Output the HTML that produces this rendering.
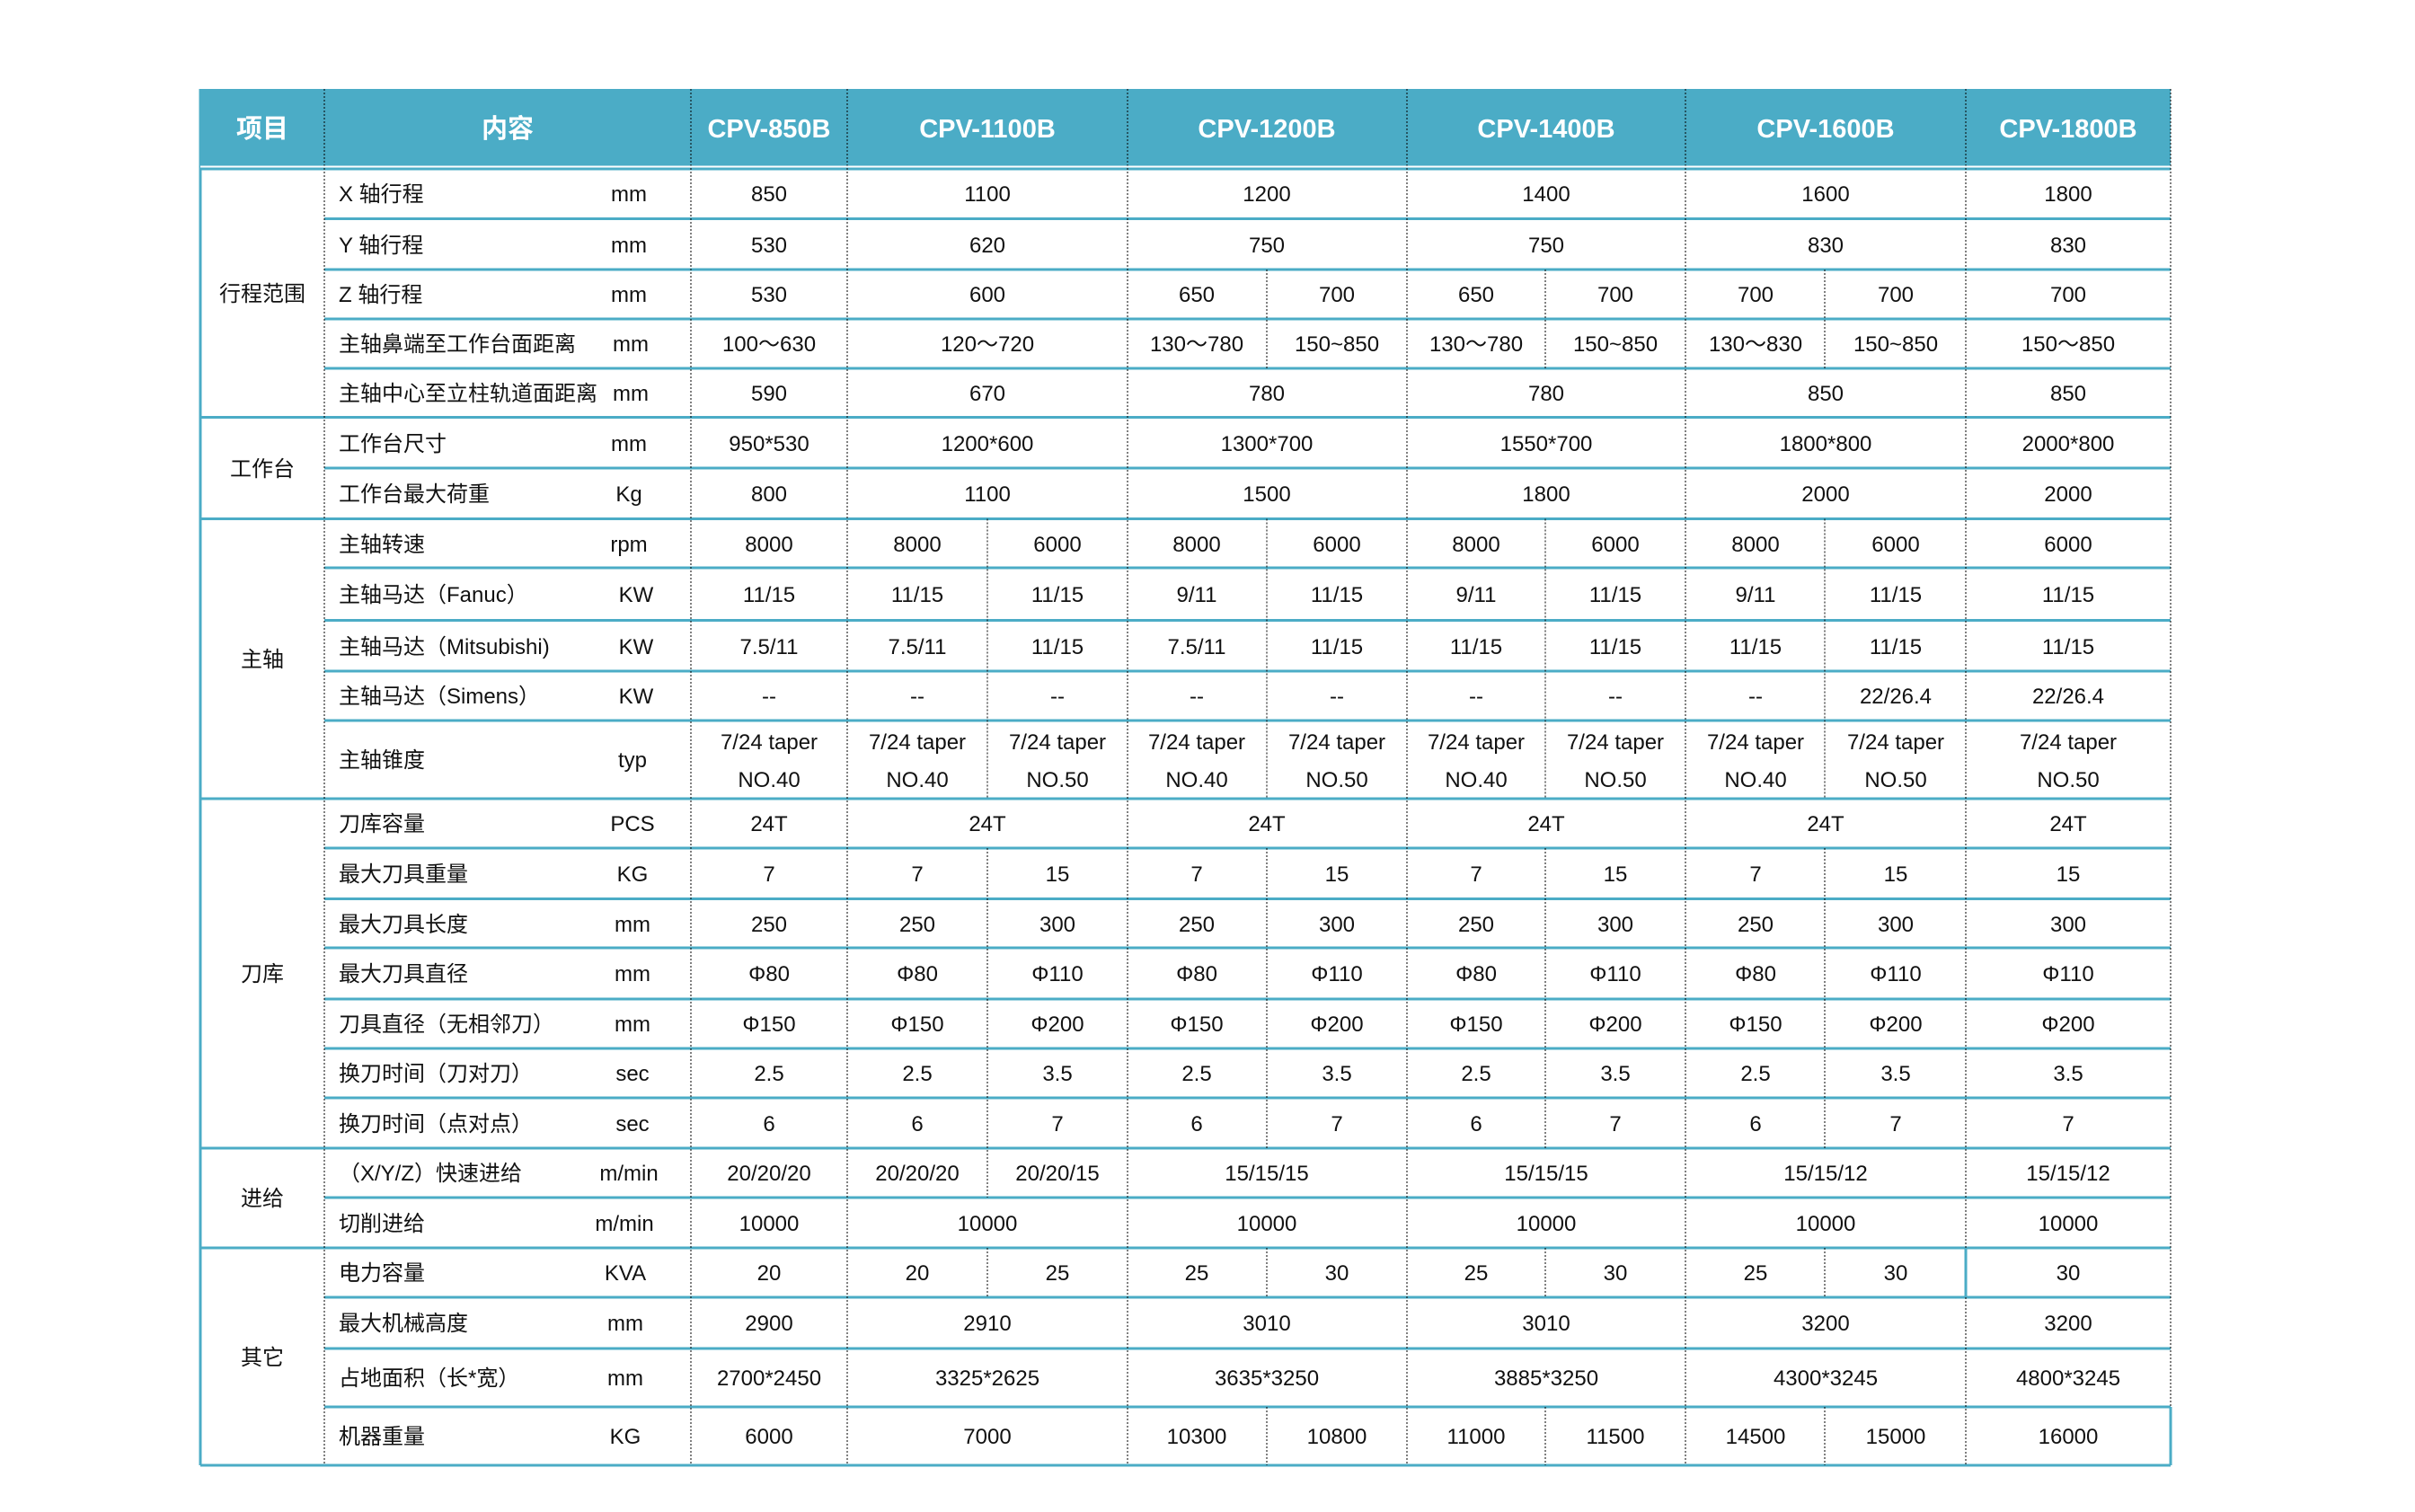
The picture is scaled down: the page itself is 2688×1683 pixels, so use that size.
<!DOCTYPE html>
<html><head><meta charset="utf-8"><style>
html,body{margin:0;padding:0;background:#fff;}
svg{display:block;}
text{font-family:"Liberation Sans","Noto Sans CJK SC",sans-serif;font-size:24px;fill:#111;}
.c{text-anchor:middle;}
.h{font-size:29px;font-weight:bold;fill:#fff;text-anchor:middle;}
.l{text-anchor:start;}
</style></head><body>
<svg width="2688" height="1683" viewBox="0 0 2688 1683" xmlns="http://www.w3.org/2000/svg">
<rect x="223" y="99" width="2193" height="86" fill="#4BACC6"/>
<g stroke="#4BACC6" stroke-width="3" fill="none">
<line x1="223" y1="188" x2="2416" y2="188"/>
<line x1="223" y1="464.5" x2="2416" y2="464.5"/>
<line x1="223" y1="577.5" x2="2416" y2="577.5"/>
<line x1="223" y1="889" x2="2416" y2="889"/>
<line x1="223" y1="1278" x2="2416" y2="1278"/>
<line x1="223" y1="1389" x2="2416" y2="1389"/>
<line x1="223" y1="1631" x2="2416" y2="1631"/>
<line x1="223" y1="99" x2="223" y2="1631"/>
<line x1="2416" y1="1566" x2="2416" y2="1631"/>
<line x1="2188" y1="1389" x2="2188" y2="1444"/>
<g>
<line x1="361" y1="243.5" x2="2416" y2="243.5"/>
<line x1="361" y1="300" x2="2416" y2="300"/>
<line x1="361" y1="355" x2="2416" y2="355"/>
<line x1="361" y1="410" x2="2416" y2="410"/>
<line x1="361" y1="521" x2="2416" y2="521"/>
<line x1="361" y1="632" x2="2416" y2="632"/>
<line x1="361" y1="690.5" x2="2416" y2="690.5"/>
<line x1="361" y1="747" x2="2416" y2="747"/>
<line x1="361" y1="802" x2="2416" y2="802"/>
<line x1="361" y1="944" x2="2416" y2="944"/>
<line x1="361" y1="1000.5" x2="2416" y2="1000.5"/>
<line x1="361" y1="1055" x2="2416" y2="1055"/>
<line x1="361" y1="1112" x2="2416" y2="1112"/>
<line x1="361" y1="1167" x2="2416" y2="1167"/>
<line x1="361" y1="1222" x2="2416" y2="1222"/>
<line x1="361" y1="1333" x2="2416" y2="1333"/>
<line x1="361" y1="1444" x2="2416" y2="1444"/>
<line x1="361" y1="1501" x2="2416" y2="1501"/>
<line x1="361" y1="1566" x2="2416" y2="1566"/>
</g>
</g>
<g stroke="#000" stroke-width="1" stroke-dasharray="2,2">
<line x1="361" y1="99" x2="361" y2="1631"/>
<line x1="769" y1="99" x2="769" y2="1631"/>
<line x1="943" y1="99" x2="943" y2="1631"/>
<line x1="1255" y1="99" x2="1255" y2="1631"/>
<line x1="1566" y1="99" x2="1566" y2="1631"/>
<line x1="1876" y1="99" x2="1876" y2="1631"/>
<line x1="2188" y1="99" x2="2188" y2="1389"/>
<line x1="2188" y1="1444" x2="2188" y2="1631"/>
<line x1="2416" y1="99" x2="2416" y2="1566"/>
<!-- splits -->
<line x1="1410" y1="300" x2="1410" y2="410"/>
<line x1="1720" y1="300" x2="1720" y2="410"/>
<line x1="2031" y1="300" x2="2031" y2="410"/>
<line x1="1099" y1="577.5" x2="1099" y2="889"/>
<line x1="1410" y1="577.5" x2="1410" y2="889"/>
<line x1="1720" y1="577.5" x2="1720" y2="889"/>
<line x1="2031" y1="577.5" x2="2031" y2="889"/>
<line x1="1099" y1="944" x2="1099" y2="1333"/>
<line x1="1410" y1="944" x2="1410" y2="1278"/>
<line x1="1720" y1="944" x2="1720" y2="1278"/>
<line x1="2031" y1="944" x2="2031" y2="1278"/>
<line x1="1099" y1="1389" x2="1099" y2="1444"/>
<line x1="1410" y1="1389" x2="1410" y2="1444"/>
<line x1="1720" y1="1389" x2="1720" y2="1444"/>
<line x1="2031" y1="1389" x2="2031" y2="1444"/>
<line x1="1410" y1="1566" x2="1410" y2="1631"/>
<line x1="1720" y1="1566" x2="1720" y2="1631"/>
<line x1="2031" y1="1566" x2="2031" y2="1631"/>
</g>
<line x1="223" y1="185.5" x2="2416" y2="185.5" stroke="#fff" stroke-width="2"/>

<!-- header -->
<text class="h" x="292" y="153">项目</text>
<text class="h" x="565" y="153">内容</text>
<text class="h" x="856" y="153">CPV-850B</text>
<text class="h" x="1099" y="153">CPV-1100B</text>
<text class="h" x="1410" y="153">CPV-1200B</text>
<text class="h" x="1721" y="153">CPV-1400B</text>
<text class="h" x="2032" y="153">CPV-1600B</text>
<text class="h" x="2302" y="153">CPV-1800B</text>

<!-- groups -->
<text class="c" x="292" y="335">行程范围</text>
<text class="c" x="292" y="530">工作台</text>
<text class="c" x="292" y="742">主轴</text>
<text class="c" x="292" y="1092">刀库</text>
<text class="c" x="292" y="1342">进给</text>
<text class="c" x="292" y="1519">其它</text>

<!-- labels -->
<g class="l">
<text x="377" y="224">X 轴行程</text>
<text x="377" y="281">Y 轴行程</text>
<text x="377" y="336">Z 轴行程</text>
<text x="377" y="391">主轴鼻端至工作台面距离</text>
<text x="377" y="446">主轴中心至立柱轨道面距离</text>
<text x="377" y="502">工作台尺寸</text>
<text x="377" y="558">工作台最大荷重</text>
<text x="377" y="614">主轴转速</text>
<text x="377" y="670">主轴马达（Fanuc）</text>
<text x="377" y="728">主轴马达（Mitsubishi)</text>
<text x="377" y="783">主轴马达（Simens）</text>
<text x="377" y="854">主轴锥度</text>
<text x="377" y="925">刀库容量</text>
<text x="377" y="981">最大刀具重量</text>
<text x="377" y="1037">最大刀具长度</text>
<text x="377" y="1092">最大刀具直径</text>
<text x="377" y="1148">刀具直径（无相邻刀）</text>
<text x="377" y="1203">换刀时间（刀对刀）</text>
<text x="377" y="1259">换刀时间（点对点）</text>
<text x="377" y="1314">（X/Y/Z）快速进给</text>
<text x="377" y="1370">切削进给</text>
<text x="377" y="1425">电力容量</text>
<text x="377" y="1481">最大机械高度</text>
<text x="377" y="1542">占地面积（长*宽）</text>
<text x="377" y="1607">机器重量</text>
</g>
<g class="c">
<text x="700" y="224">mm</text>
<text x="700" y="281">mm</text>
<text x="700" y="336">mm</text>
<text x="702" y="391">mm</text>
<text x="702" y="446">mm</text>
<text x="700" y="502">mm</text>
<text x="700" y="558">Kg</text>
<text x="700" y="614">rpm</text>
<text x="708" y="670">KW</text>
<text x="708" y="728">KW</text>
<text x="708" y="783">KW</text>
<text x="704" y="854">typ</text>
<text x="704" y="925">PCS</text>
<text x="704" y="981">KG</text>
<text x="704" y="1037">mm</text>
<text x="704" y="1092">mm</text>
<text x="704" y="1148">mm</text>
<text x="704" y="1203">sec</text>
<text x="704" y="1259">sec</text>
<text x="700" y="1314">m/min</text>
<text x="695" y="1370">m/min</text>
<text x="696" y="1425">KVA</text>
<text x="696" y="1481">mm</text>
<text x="696" y="1542">mm</text>
<text x="696" y="1607">KG</text>

<!-- row 1 -->
<text x="856" y="224">850</text><text x="1099" y="224">1100</text><text x="1410" y="224">1200</text><text x="1721" y="224">1400</text><text x="2032" y="224">1600</text><text x="2302" y="224">1800</text>
<text x="856" y="281">530</text><text x="1099" y="281">620</text><text x="1410" y="281">750</text><text x="1721" y="281">750</text><text x="2032" y="281">830</text><text x="2302" y="281">830</text>
<text x="856" y="336">530</text><text x="1099" y="336">600</text><text x="1332" y="336">650</text><text x="1488" y="336">700</text><text x="1643" y="336">650</text><text x="1798" y="336">700</text><text x="1954" y="336">700</text><text x="2110" y="336">700</text><text x="2302" y="336">700</text>
<text x="856" y="391">100～630</text><text x="1099" y="391">120～720</text><text x="1332" y="391">130～780</text><text x="1488" y="391">150~850</text><text x="1643" y="391">130～780</text><text x="1798" y="391">150~850</text><text x="1954" y="391">130～830</text><text x="2110" y="391">150~850</text><text x="2302" y="391">150～850</text>
<text x="856" y="446">590</text><text x="1099" y="446">670</text><text x="1410" y="446">780</text><text x="1721" y="446">780</text><text x="2032" y="446">850</text><text x="2302" y="446">850</text>
<text x="856" y="502">950*530</text><text x="1099" y="502">1200*600</text><text x="1410" y="502">1300*700</text><text x="1721" y="502">1550*700</text><text x="2032" y="502">1800*800</text><text x="2302" y="502">2000*800</text>
<text x="856" y="558">800</text><text x="1099" y="558">1100</text><text x="1410" y="558">1500</text><text x="1721" y="558">1800</text><text x="2032" y="558">2000</text><text x="2302" y="558">2000</text>
<text x="856" y="614">8000</text><text x="1021" y="614">8000</text><text x="1177" y="614">6000</text><text x="1332" y="614">8000</text><text x="1488" y="614">6000</text><text x="1643" y="614">8000</text><text x="1798" y="614">6000</text><text x="1954" y="614">8000</text><text x="2110" y="614">6000</text><text x="2302" y="614">6000</text>
<text x="856" y="670">11/15</text><text x="1021" y="670">11/15</text><text x="1177" y="670">11/15</text><text x="1332" y="670">9/11</text><text x="1488" y="670">11/15</text><text x="1643" y="670">9/11</text><text x="1798" y="670">11/15</text><text x="1954" y="670">9/11</text><text x="2110" y="670">11/15</text><text x="2302" y="670">11/15</text>
<text x="856" y="728">7.5/11</text><text x="1021" y="728">7.5/11</text><text x="1177" y="728">11/15</text><text x="1332" y="728">7.5/11</text><text x="1488" y="728">11/15</text><text x="1643" y="728">11/15</text><text x="1798" y="728">11/15</text><text x="1954" y="728">11/15</text><text x="2110" y="728">11/15</text><text x="2302" y="728">11/15</text>
<text x="856" y="783">--</text><text x="1021" y="783">--</text><text x="1177" y="783">--</text><text x="1332" y="783">--</text><text x="1488" y="783">--</text><text x="1643" y="783">--</text><text x="1798" y="783">--</text><text x="1954" y="783">--</text><text x="2110" y="783">22/26.4</text><text x="2302" y="783">22/26.4</text>
<text x="856" y="834">7/24 taper</text><text x="1021" y="834">7/24 taper</text><text x="1177" y="834">7/24 taper</text><text x="1332" y="834">7/24 taper</text><text x="1488" y="834">7/24 taper</text><text x="1643" y="834">7/24 taper</text><text x="1798" y="834">7/24 taper</text><text x="1954" y="834">7/24 taper</text><text x="2110" y="834">7/24 taper</text><text x="2302" y="834">7/24 taper</text>
<text x="856" y="876">NO.40</text><text x="1021" y="876">NO.40</text><text x="1177" y="876">NO.50</text><text x="1332" y="876">NO.40</text><text x="1488" y="876">NO.50</text><text x="1643" y="876">NO.40</text><text x="1798" y="876">NO.50</text><text x="1954" y="876">NO.40</text><text x="2110" y="876">NO.50</text><text x="2302" y="876">NO.50</text>
<text x="856" y="925">24T</text><text x="1099" y="925">24T</text><text x="1410" y="925">24T</text><text x="1721" y="925">24T</text><text x="2032" y="925">24T</text><text x="2302" y="925">24T</text>
<text x="856" y="981">7</text><text x="1021" y="981">7</text><text x="1177" y="981">15</text><text x="1332" y="981">7</text><text x="1488" y="981">15</text><text x="1643" y="981">7</text><text x="1798" y="981">15</text><text x="1954" y="981">7</text><text x="2110" y="981">15</text><text x="2302" y="981">15</text>
<text x="856" y="1037">250</text><text x="1021" y="1037">250</text><text x="1177" y="1037">300</text><text x="1332" y="1037">250</text><text x="1488" y="1037">300</text><text x="1643" y="1037">250</text><text x="1798" y="1037">300</text><text x="1954" y="1037">250</text><text x="2110" y="1037">300</text><text x="2302" y="1037">300</text>
<text x="856" y="1092">Φ80</text><text x="1021" y="1092">Φ80</text><text x="1177" y="1092">Φ110</text><text x="1332" y="1092">Φ80</text><text x="1488" y="1092">Φ110</text><text x="1643" y="1092">Φ80</text><text x="1798" y="1092">Φ110</text><text x="1954" y="1092">Φ80</text><text x="2110" y="1092">Φ110</text><text x="2302" y="1092">Φ110</text>
<text x="856" y="1148">Φ150</text><text x="1021" y="1148">Φ150</text><text x="1177" y="1148">Φ200</text><text x="1332" y="1148">Φ150</text><text x="1488" y="1148">Φ200</text><text x="1643" y="1148">Φ150</text><text x="1798" y="1148">Φ200</text><text x="1954" y="1148">Φ150</text><text x="2110" y="1148">Φ200</text><text x="2302" y="1148">Φ200</text>
<text x="856" y="1203">2.5</text><text x="1021" y="1203">2.5</text><text x="1177" y="1203">3.5</text><text x="1332" y="1203">2.5</text><text x="1488" y="1203">3.5</text><text x="1643" y="1203">2.5</text><text x="1798" y="1203">3.5</text><text x="1954" y="1203">2.5</text><text x="2110" y="1203">3.5</text><text x="2302" y="1203">3.5</text>
<text x="856" y="1259">6</text><text x="1021" y="1259">6</text><text x="1177" y="1259">7</text><text x="1332" y="1259">6</text><text x="1488" y="1259">7</text><text x="1643" y="1259">6</text><text x="1798" y="1259">7</text><text x="1954" y="1259">6</text><text x="2110" y="1259">7</text><text x="2302" y="1259">7</text>
<text x="856" y="1314">20/20/20</text><text x="1021" y="1314">20/20/20</text><text x="1177" y="1314">20/20/15</text><text x="1410" y="1314">15/15/15</text><text x="1721" y="1314">15/15/15</text><text x="2032" y="1314">15/15/12</text><text x="2302" y="1314">15/15/12</text>
<text x="856" y="1370">10000</text><text x="1099" y="1370">10000</text><text x="1410" y="1370">10000</text><text x="1721" y="1370">10000</text><text x="2032" y="1370">10000</text><text x="2302" y="1370">10000</text>
<text x="856" y="1425">20</text><text x="1021" y="1425">20</text><text x="1177" y="1425">25</text><text x="1332" y="1425">25</text><text x="1488" y="1425">30</text><text x="1643" y="1425">25</text><text x="1798" y="1425">30</text><text x="1954" y="1425">25</text><text x="2110" y="1425">30</text><text x="2302" y="1425">30</text>
<text x="856" y="1481">2900</text><text x="1099" y="1481">2910</text><text x="1410" y="1481">3010</text><text x="1721" y="1481">3010</text><text x="2032" y="1481">3200</text><text x="2302" y="1481">3200</text>
<text x="856" y="1542">2700*2450</text><text x="1099" y="1542">3325*2625</text><text x="1410" y="1542">3635*3250</text><text x="1721" y="1542">3885*3250</text><text x="2032" y="1542">4300*3245</text><text x="2302" y="1542">4800*3245</text>
<text x="856" y="1607">6000</text><text x="1099" y="1607">7000</text><text x="1332" y="1607">10300</text><text x="1488" y="1607">10800</text><text x="1643" y="1607">11000</text><text x="1798" y="1607">11500</text><text x="1954" y="1607">14500</text><text x="2110" y="1607">15000</text><text x="2302" y="1607">16000</text>
</g>
</svg>
</body></html>
